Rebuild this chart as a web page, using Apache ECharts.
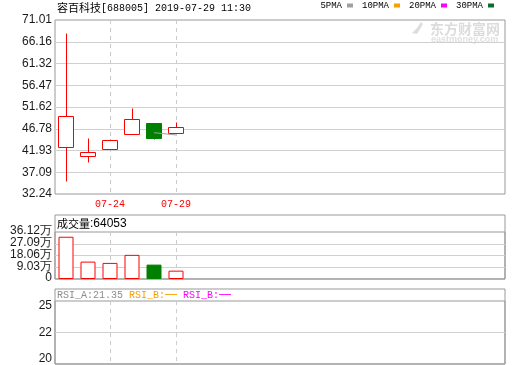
<!DOCTYPE html>
<html>
<head>
<meta charset="utf-8">
<script src="https://cdn.jsdelivr.net/npm/echarts@6/dist/echarts.min.js"></script>
<style>html,body{margin:0;padding:0;background:#fff;}#c{width:520px;height:365px;}</style>
</head>
<body>
<div id="c"></div>
<script>
// ---- data ----
const dates = ['07-22', '07-23', '07-24', '07-25', '07-26', '07-29'];
const labelDates = ['07-24', '07-29'];
// [open, close, low, high]
const ohlc = [
  [42.64, 49.55, 35.21, 68.18],
  [40.77, 41.60, 39.44, 44.72],
  [42.20, 44.27, 42.20, 44.56],
  [45.54, 48.88, 45.54, 51.50],
  [48.06, 44.78, 44.45, 48.06],
  [45.76, 47.17, 45.76, 48.28]
];
const ma5 = [null, null, null, null, 45.90, 45.39];
const volumes = [32.47, 13.37, 12.37, 18.55, 11.05, 6.41]; // 万
const priceTicks = ['32.24', '37.09', '41.93', '46.78', '51.62', '56.47', '61.32', '66.16', '71.01'];
const volTicks = ['0', '9.03万', '18.06万', '27.09万', '36.12万'];
const rsiTicks = ['20', '22', '25'];
const priceMin = 32.24, priceMax = 71.01, volMax = 36.12;
const maNames = ['5PMA', '10PMA', '20PMA', '30PMA'];
const maColors = ['#a0a0a0', '#f5a000', '#ff00ff', '#0a6e2a'];
const slotCount = 20;

const cats = Array.from({length: slotCount}, (_, i) => dates[i] || '');
const UP = '#ff0000', DOWN = '#008000', BORDER = '#999999', GRID = '#d0d0d0';
const labelFont = {fontFamily: 'Liberation Sans, Arial', fontSize: 12, color: '#1a1a1a'};

const hiddenX = (g) => ({type: 'value', gridIndex: g, show: false, min: 0, max: 1});
const hiddenY = (g) => ({type: 'value', gridIndex: g, show: false, min: 0, max: 1});
const dashedCatX = (g, showLabel) => ({
  type: 'category', gridIndex: g, data: cats, boundaryGap: true,
  axisLine: {show: false}, axisTick: {show: false},
  axisLabel: showLabel ? {
    show: true, interval: (i, v) => labelDates.includes(v),
    color: UP, fontFamily: 'Liberation Mono, monospace', fontSize: 10, margin: 5
  } : {show: false},
  splitLine: {show: true, alignWithLabel: true, interval: (i, v) => labelDates.includes(v),
    lineStyle: {color: '#cccccc', type: [4, 4], width: 1}}
});
const labelAxisCommon = {axisLine: {show: false}, axisTick: {show: false}};

function renderCandle(params, api) {
  const i = api.value(0), o = api.value(1), c = api.value(2), l = api.value(3), h = api.value(4);
  const up = c >= o;
  const col = up ? UP : DOWN;
  const pO = api.coord([i, o]), pC = api.coord([i, c]), pL = api.coord([i, l]), pH = api.coord([i, h]);
  const px = Math.floor(pO[0]) + 0.5;
  const top = Math.round(Math.min(pO[1], pC[1])) + 0.5;
  const bot = Math.round(Math.max(pO[1], pC[1])) + 0.5;
  const yH = Math.round(pH[1]) + 0.5, yL = Math.round(pL[1]) + 0.5;
  return {type: 'group', children: [
    {type: 'line', shape: {x1: px, y1: yH, x2: px, y2: top}, style: {stroke: col, lineWidth: 1}},
    {type: 'line', shape: {x1: px, y1: bot, x2: px, y2: yL}, style: {stroke: col, lineWidth: 1}},
    {type: 'rect', shape: {x: px - 8, y: top, width: 15, height: Math.max(bot - top, 1)},
      style: {fill: up ? '#ffffff' : DOWN, stroke: col, lineWidth: 1}}
  ]};
}

const chart = echarts.init(document.getElementById('c'), null, {renderer: 'canvas'});
const option = {
  animation: false,
  backgroundColor: '#fff',
  legend: {
    data: maNames, top: 1, right: 26, padding: 0, align: 'right', icon: 'rect',
    itemWidth: 6, itemHeight: 4, itemGap: 9, selectedMode: false,
    textStyle: {fontFamily: 'Liberation Mono, monospace', fontSize: 9, color: '#000'}
  },
  grid: [
    {left: 55, top: 20, width: 450, height: 174, show: true, borderColor: BORDER, borderWidth: 1, backgroundColor: 'transparent'},
    {left: 55, top: 20, width: 440, height: 174},
    {left: 55, top: 215, width: 450, height: 64, show: true, borderColor: BORDER, borderWidth: 1, backgroundColor: 'transparent'},
    {left: 55, top: 232, width: 450, height: 47, show: true, borderColor: BORDER, borderWidth: 1, backgroundColor: 'transparent'},
    {left: 55, top: 232, width: 440, height: 47},
    {left: 55, top: 289, width: 450, height: 75, show: true, borderColor: BORDER, borderWidth: 1, backgroundColor: 'transparent'},
    {left: 55, top: 301, width: 450, height: 63, show: true, borderColor: BORDER, borderWidth: 1, backgroundColor: 'transparent'},
    {left: 55, top: 301, width: 440, height: 63},
    {left: 55, top: 306, width: 450, height: 53},
    {left: 55, top: 231, width: 450, height: 47}
  ],
  xAxis: [
    hiddenX(0),
    dashedCatX(1, true),
    hiddenX(2),
    hiddenX(3),
    dashedCatX(4, false),
    hiddenX(5),
    hiddenX(6),
    dashedCatX(7, false),
    hiddenX(8),
    hiddenX(9)
  ],
  yAxis: [
    Object.assign({type: 'value', gridIndex: 0, min: 0, max: priceTicks.length - 1, interval: 1,
      axisLabel: Object.assign({formatter: (v) => priceTicks[Math.round(v)], margin: 3, interval: 0,
        showMinLabel: true, showMaxLabel: true, hideOverlap: false}, labelFont),
      splitLine: {show: true, showMinLine: false, showMaxLine: false, lineStyle: {color: GRID, width: 1}}}, labelAxisCommon),
    {type: 'value', gridIndex: 1, show: false, min: priceMin, max: priceMax},
    hiddenY(2),
    Object.assign({type: 'value', gridIndex: 3, min: 0, max: volTicks.length - 1, interval: 1,
      axisLabel: {show: false},
      splitLine: {show: true, showMinLine: false, showMaxLine: false, lineStyle: {color: GRID, width: 1}}}, labelAxisCommon),
    {type: 'value', gridIndex: 4, show: false, min: 0, max: volMax},
    hiddenY(5),
    hiddenY(6),
    hiddenY(7),
    Object.assign({type: 'category', gridIndex: 8, data: rsiTicks, boundaryGap: false,
      axisLabel: Object.assign({margin: 3, interval: 0, showMinLabel: true, showMaxLabel: true, hideOverlap: false}, labelFont),
      splitLine: {show: true, interval: (i) => i === 1, lineStyle: {color: GRID, width: 1}}}, labelAxisCommon),
    Object.assign({type: 'category', gridIndex: 9, data: volTicks, boundaryGap: false,
      axisLabel: Object.assign({margin: 3, interval: 0, lineHeight: 10,
        showMinLabel: true, showMaxLabel: true, hideOverlap: false}, labelFont),
      splitLine: {show: false}}, labelAxisCommon)
  ],
  series: [
    {type: 'custom', name: 'K', xAxisIndex: 1, yAxisIndex: 1,
      data: ohlc.map((d, i) => [i, d[0], d[1], d[2], d[3]]),
      encode: {x: 0, y: [1, 2, 3, 4]}, renderItem: renderCandle, silent: true},
    {type: 'line', name: maNames[0], xAxisIndex: 1, yAxisIndex: 1, data: ma5, symbol: 'none',
      lineStyle: {color: maColors[0], width: 1}, itemStyle: {color: maColors[0]}},
    {type: 'line', name: maNames[1], xAxisIndex: 1, yAxisIndex: 1, data: [], symbol: 'none', itemStyle: {color: maColors[1]}, lineStyle: {color: maColors[1]}},
    {type: 'line', name: maNames[2], xAxisIndex: 1, yAxisIndex: 1, data: [], symbol: 'none', itemStyle: {color: maColors[2]}, lineStyle: {color: maColors[2]}},
    {type: 'line', name: maNames[3], xAxisIndex: 1, yAxisIndex: 1, data: [], symbol: 'none', itemStyle: {color: maColors[3]}, lineStyle: {color: maColors[3]}},
    {type: 'bar', name: 'VOL', xAxisIndex: 4, yAxisIndex: 4, barWidth: 15,
      data: volumes.map((v, i) => {
        const up = ohlc[i][1] >= ohlc[i][0];
        return {value: v, itemStyle: up ? {color: '#ffffff', borderColor: UP, borderWidth: 1} : {color: DOWN, borderColor: DOWN, borderWidth: 1}};
      })}
  ],
  graphic: [
    {type: 'text', x: 57, y: 8, silent: true, style: {
      text: '{cn|容百科技}{en|[688005] 2019-07-29 11:30}', verticalAlign: 'middle',
      rich: {cn: {fontFamily: 'Noto Sans CJK SC', fontSize: 11, fill: '#000'},
             en: {fontFamily: 'Liberation Mono, monospace', fontSize: 10, fill: '#000'}}}},
    {type: 'text', x: 57, y: 224, silent: true, style: {
      text: '{cn|成交量}{en|:64053}', verticalAlign: 'middle',
      rich: {cn: {fontFamily: 'Noto Sans CJK SC', fontSize: 11, fill: '#000'},
             en: {fontFamily: 'Liberation Sans, Arial', fontSize: 12, fill: '#000'}}}},
    {type: 'text', x: 57, y: 295, silent: true, style: {
      text: '{a|RSI_A:21.35 }{b|RSI_B:}{bd|—}{sp| }{c|RSI_B:}{cd|—}', verticalAlign: 'middle',
      rich: {a: {fontFamily: 'Liberation Mono, monospace', fontSize: 10, fill: '#8c8c8c'},
             b: {fontFamily: 'Liberation Mono, monospace', fontSize: 10, fill: '#f5a000'},
             bd: {fontFamily: 'Liberation Sans, Arial', fontSize: 12, fill: '#f5a000'},
             sp: {fontFamily: 'Liberation Mono, monospace', fontSize: 10, fill: '#000'},
             c: {fontFamily: 'Liberation Mono, monospace', fontSize: 10, fill: '#ff00ff'},
             cd: {fontFamily: 'Liberation Sans, Arial', fontSize: 12, fill: '#ff00ff'}}}},
    {type: 'polygon', silent: true, shape: {points: [[421, 22], [423, 24], [417, 34], [412, 33], [417, 28]]}, style: {fill: '#dddddd'}},
    {type: 'text', x: 430, y: 29, silent: true, style: {text: '东方财富网', verticalAlign: 'middle',
      fontFamily: 'Noto Sans CJK SC', fontSize: 14, fontWeight: 'bold', fill: '#dcdcdc'}},
    {type: 'text', x: 431, y: 40, silent: true, style: {text: 'eastmoney.com', verticalAlign: 'middle',
      fontFamily: 'Liberation Sans, Arial', fontSize: 9, fontWeight: 'bold', fill: '#e0e0e0'}}
  ]
};
chart.setOption(option);
</script>
</body>
</html>
